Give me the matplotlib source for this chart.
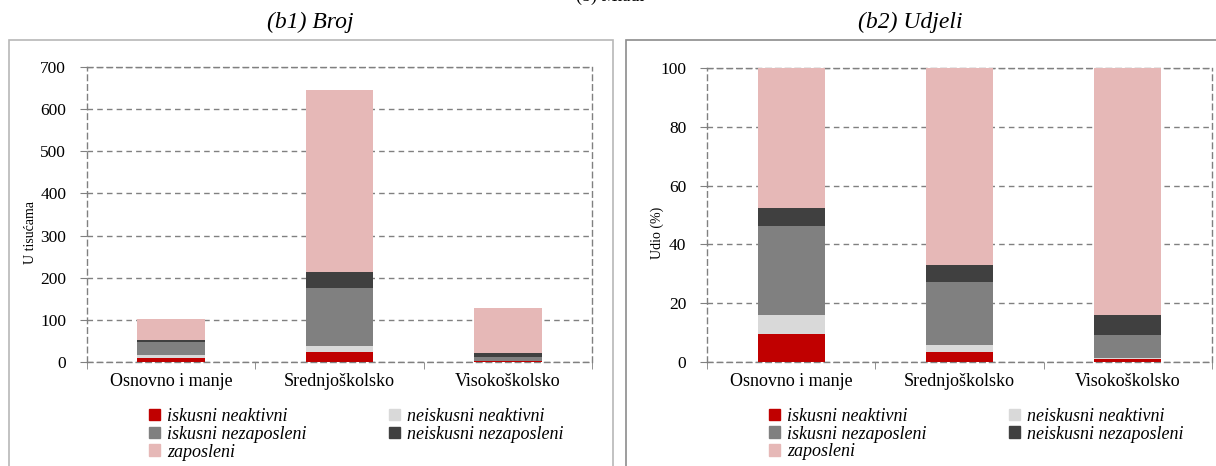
import matplotlib.pyplot as plt
import numpy as np
from matplotlib.patches import Rectangle, Patch

plt.rcParams['font.family'] = ['Liberation Serif', 'DejaVu Serif']

# Kategorije obrazovanja
kategorije = ['Osnovno i manje', 'Srednjoškolsko', 'Visokoškolsko']
serije = ['iskusni neaktivni', 'neiskusni neaktivni', 'iskusni nezaposleni',
          'neiskusni nezaposleni', 'zaposleni']
boje = ['#c00000', '#d9d9d9', '#808080', '#404040', '#e6b8b7']

# (b1) Broj, u tisućama
broj_isk_neak = [9.7, 22.6, 1.2]
broj_neisk_neak = [6.3, 15.5, 0.7]
broj_isk_nezap = [30.7, 137.4, 10.1]
broj_neisk_nezap = [6.4, 37.3, 8.8]
broj_zaposleni = [48.0, 432.0, 108.0]

# (b2) Udjeli, %
udio_isk_neak = [9.6, 3.5, 0.9]
udio_neisk_neak = [6.4, 2.4, 0.6]
udio_isk_nezap = [30.1, 21.3, 7.8]
udio_neisk_nezap = [6.4, 5.8, 6.8]
udio_zaposleni = [47.5, 67.0, 83.9]

broj = [broj_isk_neak, broj_neisk_neak, broj_isk_nezap, broj_neisk_nezap, broj_zaposleni]
udio = [udio_isk_neak, udio_neisk_neak, udio_isk_nezap, udio_neisk_nezap, udio_zaposleni]

W, H = 1216, 466
fig = plt.figure(figsize=(W / 100, H / 100), dpi=100)

# okviri panela
fig.add_artist(Rectangle((9 / W, -0.05), (613 - 9) / W, 1.05 - 40 / H,
                         transform=fig.transFigure, fill=False, ec='#b8b8b8', lw=1.2))
fig.add_artist(Rectangle((626 / W, -0.05), (1230 - 626) / W, 1.05 - 40 / H,
                         transform=fig.transFigure, fill=False, ec='#8c8c8c', lw=1.2))

fig.text(610 / W, 1 + 4 / H, '(b) Mladi', ha='center', va='center', fontsize=13)


def crtaj(ax_rect, podaci, ymax, yticks, ylabel, naslov, naslov_x, ylab_x, leg_x):
    ax = fig.add_axes(ax_rect)
    x = np.arange(len(kategorije))
    dno = np.zeros(len(kategorije))
    for vrij, boja in zip(podaci, boje):
        ax.bar(x, vrij, 0.4, bottom=dno, color=boja, zorder=3)
        dno += np.array(vrij)
    ax.set_xlim(-0.5, 2.5)
    ax.set_ylim(0, ymax)
    ax.set_yticks(yticks)
    ax.set_yticklabels([str(t) for t in yticks], fontsize=12.5)
    ax.set_xticks(x)
    ax.set_xticklabels(kategorije, fontsize=13)
    ax.tick_params(axis='x', length=0, pad=8)
    ax.set_xticks([-0.5, 0.5, 1.5, 2.5], minor=True)
    ax.tick_params(axis='x', which='minor', length=5, color='#808080', direction='out')
    ax.tick_params(axis='y', length=5, color='#808080', direction='out', pad=10)
    ax.grid(axis='y', color='#808080', linestyle=(0, (4, 3)), lw=1, zorder=0)
    for s in ax.spines.values():
        s.set_color('#808080')
        s.set_linestyle((0, (4, 3)))
        s.set_linewidth(1)
    ax.text(ylab_x, 0.5, ylabel, transform=fig.transFigure, rotation=90,
            ha='center', va='center', fontsize=10)
    fig.text(naslov_x, 1 - 22 / H, naslov, ha='center', va='center',
             fontsize=17, style='italic')

    rucke = [Patch(color=boje[i]) for i in [0, 2, 4, 1, 3]]
    natpisi = [serije[i] for i in [0, 2, 4, 1, 3]]
    ax.legend(rucke, natpisi, ncol=2, frameon=False, loc='upper left',
              bbox_to_anchor=(leg_x, -0.1), handlelength=0.6, handleheight=0.6,
              handletextpad=0.4, columnspacing=4.6, labelspacing=0.05,
              prop={'style': 'italic', 'size': 13})
    return ax


crtaj([87 / W, 1 - 362 / H, 505 / W, 295 / H], broj, 700,
      [0, 100, 200, 300, 400, 500, 600, 700], 'U tisućama',
      '(b1) Broj', 310 / W, 30 / W, 0.09)
crtaj([707 / W, 1 - 362 / H, 505 / W, 294 / H], udio, 100,
      [0, 20, 40, 60, 80, 100], 'Udio (%)',
      '(b2) Udjeli', 910 / W, 657 / W, 0.09)

fig.savefig('out.png', dpi=100)
